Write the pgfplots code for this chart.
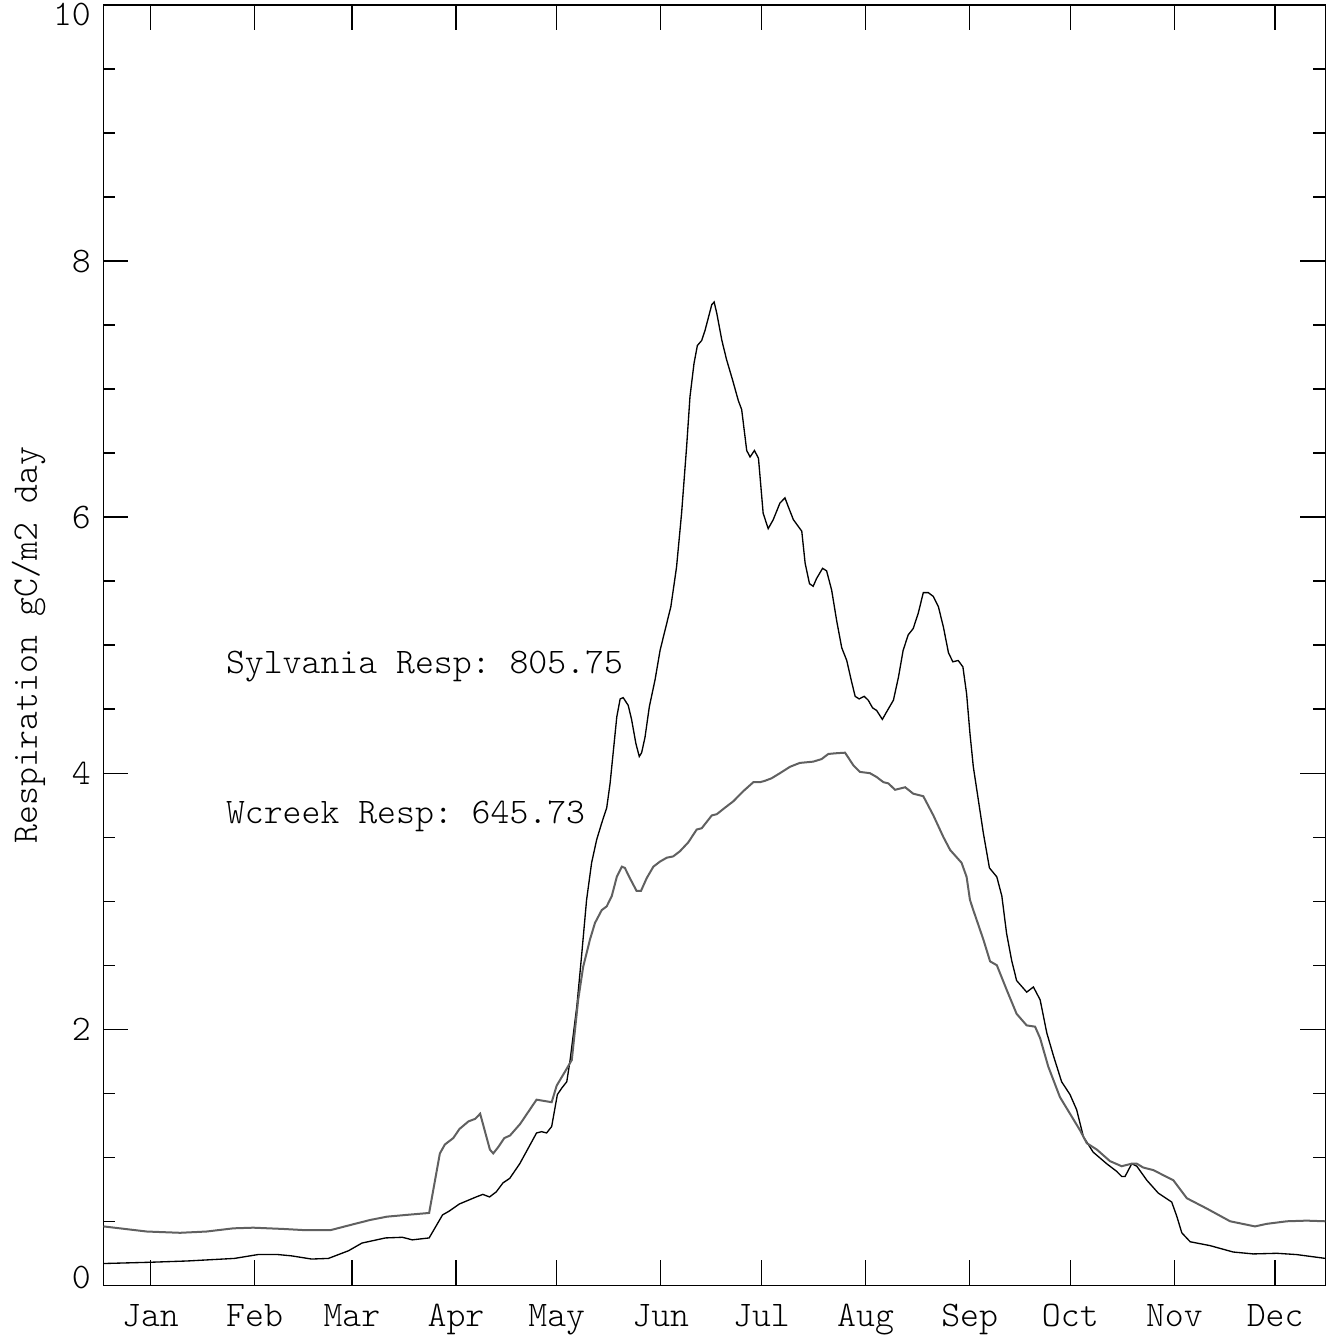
\documentclass[border=0pt]{standalone}
\usepackage{fontspec}
\usepackage{pgfplots}
\pgfplotsset{compat=1.18}
\definecolor{wgray}{RGB}{96,96,96}
\newcommand{\plotfont}{\ttfamily\fontseries{l}\fontsize{10.8}{12}\selectfont}
\begin{document}
\frenchspacing
\plotfont
\begin{tikzpicture}
\begin{axis}[
  scale only axis,
  width=366.6pt, height=384.1pt,
  xmin=0, xmax=364, ymin=0, ymax=10,
  font=\plotfont,
  axis line style={black, line width=0.4pt},
  tick align=inside,
  xtick={14,45,74,105,135,166,196,227,258,288,319,349},
  xticklabels={Jan,Feb,Mar,Apr,May,Jun,Jul,Aug,Sep,Oct,Nov,Dec},
  ytick={0,2,...,10},
  yticklabels={\raisebox{2.3pt}[\height][\depth]{0},2,4,6,8,\raisebox{-3pt}[\height][\depth]{10}},
  minor y tick num=3,
  major tick length=7.5pt, minor tick length=3.6pt,
  tick style={line width=0.4pt, black},
  xticklabel style={anchor=base, yshift=-12.4pt},
  ylabel={Respiration gC/m2 day},
  ylabel style={at={(axis description cs:-0.0545,0.5)}, anchor=base},
]
% Sylvania
\addplot[black, line width=0.4pt] coordinates {
(0,0.17) (14,0.18) (25,0.19) (39,0.21) (46,0.24) (52,0.24) (56,0.23) (62,0.205)
(67,0.21) (73,0.27) (77,0.33) (84,0.37) (89,0.375) (92,0.355) (97,0.37) (101,0.55)
(103,0.58) (106,0.635) (111,0.69) (113,0.71) (115,0.69) (117,0.73) (119,0.80) (121,0.835)
(124,0.95) (129,1.19) (130.5,1.20) (132,1.19) (133.5,1.24) (135.2,1.49) (136.5,1.54) (138,1.59)
(139,1.76) (141,2.18) (142.4,2.57) (143.9,3.01) (145.4,3.30) (146.9,3.48) (148.4,3.61) (149.9,3.73)
(150.9,3.92) (151.9,4.18) (152.9,4.44) (153.9,4.58) (154.8,4.59) (156.3,4.53) (157.3,4.42) (158.6,4.23)
(159.6,4.13) (160.3,4.16) (161.3,4.28) (162.6,4.52) (164.3,4.73) (165.8,4.96) (167.3,5.12) (169,5.30)
(170.7,5.61) (172.2,6.03) (173.7,6.55) (174.7,6.94) (175.9,7.20) (176.9,7.34) (178.2,7.38) (179.2,7.46)
(180.5,7.59) (181.2,7.66) (181.9,7.68) (182.7,7.59) (184.2,7.38) (185.6,7.23) (187.4,7.07) (189.1,6.91)
(190.1,6.84) (191.6,6.52) (192.6,6.47) (193.9,6.52) (195.1,6.46) (196.5,6.03) (198,5.91) (199.5,5.98)
(201.5,6.11) (203,6.15) (204,6.08) (205.5,5.98) (208,5.89) (209,5.64) (210.3,5.48) (211.4,5.46)
(212.4,5.52) (214.2,5.60) (215.4,5.58) (216.9,5.43) (218.4,5.19) (219.9,4.98) (221.4,4.88) (222.7,4.73)
(223.9,4.60) (225.1,4.58) (226.6,4.60) (227.8,4.57) (229.1,4.51) (230.3,4.49) (232,4.42) (233.3,4.48)
(235.3,4.57) (236.8,4.75) (238.2,4.96) (239.7,5.08) (241.2,5.13) (242.7,5.25) (244.2,5.41) (245.7,5.41)
(247.2,5.38) (248.7,5.30) (250.2,5.14) (251.7,4.94) (253,4.87) (254.6,4.88) (256,4.83) (257.1,4.62)
(258.1,4.31) (259.1,4.05) (260.6,3.79) (262.1,3.53) (263.9,3.26) (266.1,3.19) (267.6,3.04) (269,2.75)
(270.5,2.54) (272,2.38) (275,2.29) (277,2.33) (279,2.23) (281,1.97) (283,1.79) (285.4,1.59)
(287.9,1.49) (289.9,1.37) (291.9,1.16) (294.8,1.04) (298.8,0.95) (301.8,0.89) (303.3,0.85) (304.3,0.85)
(306.3,0.95) (307.8,0.93) (310.8,0.82) (314.2,0.72) (318.2,0.65) (319.7,0.54) (321.2,0.41) (323.7,0.34)
(329.6,0.31) (336.5,0.26) (342.5,0.245) (349.5,0.25) (355.4,0.24) (364,0.21)
};
% Wcreek
\addplot[wgray, line width=0.6pt] coordinates {
(0,0.46) (12.9,0.42) (22.8,0.41) (30.7,0.42) (38.7,0.445) (44.6,0.45) (53.6,0.44) (60.5,0.43)
(67.5,0.43) (73.4,0.47) (79.4,0.51) (84.4,0.536) (90.3,0.55) (97,0.565) (100.2,1.03) (101.7,1.10)
(104.2,1.15) (106,1.22) (108.7,1.28) (110.7,1.30) (112.2,1.34) (115.1,1.06) (116.1,1.03) (117.6,1.08)
(119.4,1.15) (121.1,1.17) (124.1,1.26) (129,1.45) (133.5,1.43) (135,1.56) (137.5,1.67) (139.5,1.76)
(141.4,2.23) (142.9,2.49) (144.9,2.70) (146.4,2.83) (148.4,2.93) (149.9,2.96) (151.4,3.04) (152.9,3.19)
(154.4,3.27) (155.3,3.26) (156.8,3.18) (158.8,3.08) (160.1,3.08) (161.8,3.18) (163.8,3.27) (165.8,3.31)
(167.8,3.34) (169.7,3.35) (171.7,3.39) (174.2,3.46) (176.7,3.56) (178.2,3.57) (181.2,3.67) (182.7,3.68)
(185.1,3.73) (187.6,3.78) (190.6,3.86) (193.6,3.93) (195.6,3.93) (197,3.94) (199,3.96) (201.5,4.00)
(204.5,4.05) (207.4,4.08) (211.4,4.09) (213.9,4.11) (215.9,4.15) (217.9,4.155) (220.9,4.16) (223.4,4.06)
(225.3,4.01) (228.3,4.00) (230.3,3.97) (232.3,3.93) (233.8,3.92) (235.8,3.87) (238.8,3.89) (241.2,3.84)
(244.2,3.82) (247.2,3.67) (250.2,3.50) (252.2,3.40) (255.6,3.30) (257.1,3.19) (258.1,3.01) (259.1,2.93)
(262.1,2.70) (264.1,2.53) (266.1,2.50) (269,2.31) (272,2.12) (275,2.03) (277.5,2.02) (279,1.93)
(281.4,1.71) (284.9,1.47) (287.9,1.34) (290.9,1.21) (292.9,1.11) (295.9,1.06) (299.8,0.97) (303.3,0.93)
(306.3,0.95) (307.8,0.95) (309.7,0.92) (312.7,0.90) (318.7,0.82) (322.7,0.68) (328.6,0.60) (335.6,0.50)
(343,0.46) (346.5,0.48) (352.5,0.50) (358.4,0.505) (364,0.50)
};
\node[anchor=base west, inner sep=0pt] at (axis cs:36.3,4.78) {Sylvania Resp: 805.75};
\node[anchor=base west, inner sep=0pt] at (axis cs:36.3,3.61) {Wcreek Resp: 645.73};
\end{axis}
\pgfresetboundingbox
\path[use as bounding box] ([shift={(-31.05pt,-15.51pt)}]current axis.south west) rectangle ([shift={(2.25pt,1.5pt)}]current axis.north east);
\end{tikzpicture}
\end{document}
